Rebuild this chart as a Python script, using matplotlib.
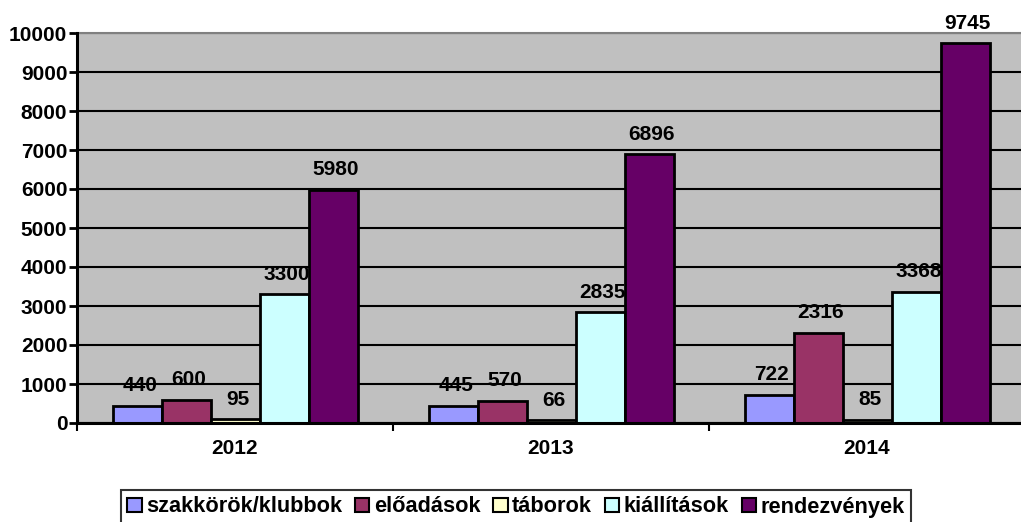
import matplotlib
matplotlib.use("Agg")
import matplotlib.pyplot as plt
import numpy as np

years = ["2012", "2013", "2014"]
series_names = ["szakkörök/klubbok", "előadások", "táborok", "kiállítások", "rendezvények"]
szakkorok = [440, 445, 722]
eloadasok = [600, 570, 2316]
taborok = [95, 66, 85]
kiallitasok = [3300, 2835, 3368]
rendezvenyek = [5980, 6896, 9745]
colors = ["#9999FF", "#993366", "#FFFFCC", "#CCFFFF", "#660066"]
yticks = list(range(0, 10001, 1000))

plt.rcParams['font.family'] = ['Liberation Sans', 'DejaVu Sans']
plt.rcParams['font.weight'] = 'bold'
FS = 15

fig = plt.figure(figsize=(10.21, 5.22), dpi=100)
ax = fig.add_axes([77/1021, (522-423)/522, (1025-77)/1021, (423-33)/522])
ax.set_facecolor("#C0C0C0")

data = [szakkorok, eloadasok, taborok, kiallitasok, rendezvenyek]
x = np.arange(len(years))
w = 49/316
for i, (name, vals, c) in enumerate(zip(series_names, data, colors)):
    pos = x + (i - 2) * w
    ax.bar(pos, vals, width=w, color=c, edgecolor="black", linewidth=2, label=name, zorder=3)
    for px, v in zip(pos, vals):
        ax.annotate(str(v), (px, v), xytext=(2, 7.5), textcoords="offset points",
                    ha="center", va="bottom", fontsize=FS, fontweight="bold", zorder=4)

ax.set_xlim(-0.5, 2.5)
ax.set_ylim(0, 10000)
ax.set_yticks(yticks)
ax.set_yticklabels([str(t) for t in yticks], fontsize=FS, fontweight="bold")
ax.set_xticks([-0.5, 0.5, 1.5, 2.5])
ax.set_xticklabels([])
for xi, lab in zip(x, years):
    ax.text(xi, -420, lab, ha="center", va="top", fontsize=FS, fontweight="bold")
ax.tick_params(axis="x", direction="out", length=6, width=1.5, color="black")
ax.tick_params(axis="y", direction="out", length=6, width=2, color="black", pad=1)
ax.yaxis.grid(True, color="black", linewidth=1.5, zorder=0)
ax.set_axisbelow(True)
for s in ["left", "bottom"]:
    ax.spines[s].set_linewidth(2.2)
    ax.spines[s].set_color("black")
    ax.spines[s].set_zorder(5)
ax.spines["top"].set_color("#808080")
ax.spines["top"].set_linewidth(1.5)
ax.spines["right"].set_visible(False)

leg = fig.legend(loc="center", bbox_to_anchor=(516/1021, (522-507)/522), ncol=5,
                 fontsize=15.7, frameon=True, fancybox=False, edgecolor="black",
                 handlelength=0.65, handleheight=0.65, handletextpad=0.2,
                 columnspacing=0.6, borderpad=0.3, borderaxespad=0)
leg.get_frame().set_linewidth(1.5)
for t in leg.get_texts():
    t.set_fontweight("bold")
for h in leg.legend_handles:
    h.set_linewidth(1.5)

fig.savefig("out.png", dpi=100)
